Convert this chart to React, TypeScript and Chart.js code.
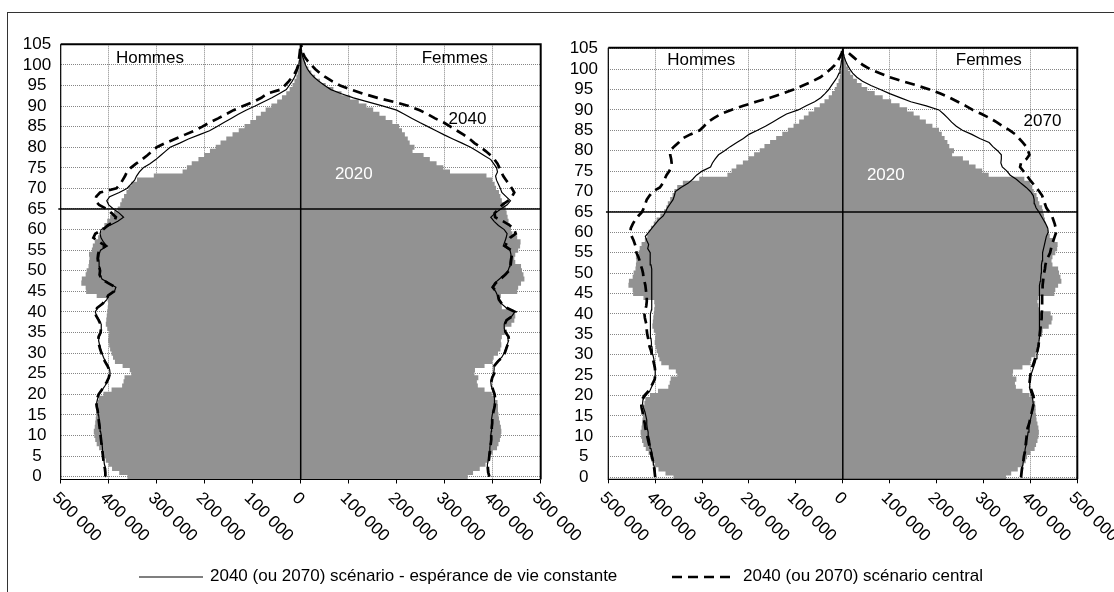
import React, { useEffect, useRef } from 'react';
import { Chart, registerables } from 'chart.js';

Chart.register(...registerables);

const FONT = "'Liberation Sans', Arial, Helvetica, sans-serif";

// ---------- categories & tick labels ----------
const ages: number[] = Array.from({ length: 106 }, (_, i) => i);
const ageTicks = [0, 5, 10, 15, 20, 25, 30, 35, 40, 45, 50, 55, 60, 65, 70, 75, 80, 85, 90, 95, 100, 105];
const xTickValues = [-500000, -400000, -300000, -200000, -100000, 0, 100000, 200000, 300000, 400000, 500000];
const xTickLabels = ['500 000', '400 000', '300 000', '200 000', '100 000', '0', '100 000', '200 000', '300 000', '400 000', '500 000'];
const legendLabels = ['2040 (ou 2070) scénario - espérance de vie constante', '2040 (ou 2070) scénario central'];

// ---------- population, thousands, ages 0..105 ----------
const men2020 = [
  360, 377, 392, 399, 405, 409, 413, 419, 424, 427,
  429, 430, 428, 427, 426, 425, 424, 425, 422, 420,
  410, 393, 371, 368, 366, 352, 355, 370, 386, 390,
  393, 396, 398, 400, 399, 398, 402, 405, 404, 403,
  402, 401, 400, 401, 424, 446, 447, 456, 455, 447,
  445, 441, 440, 439, 440, 434, 432, 428, 421, 416,
  413, 408, 402, 396, 388, 380, 375, 372, 367, 362,
  358, 352, 340, 305, 245, 236, 226, 212, 200, 188,
  176, 166, 154, 141, 128, 116, 104, 92, 82, 72,
  60, 48, 38, 29, 22, 16, 12, 8, 5.5, 3.8,
  2.5, 1.6, 1.0, 0.6, 0.4, 0.3,
];
const women2020 = [
  347, 358, 372, 384, 389, 392, 399, 408, 411, 414,
  416, 417, 416, 414, 412, 411, 410, 410, 409, 404,
  397, 382, 368, 366, 369, 361, 362, 382, 398, 401,
  410, 415, 417, 416, 418, 424, 425, 438, 444, 446,
  442, 418, 416, 414, 416, 450, 452, 458, 465, 463,
  460, 458, 446, 444, 446, 452, 456, 457, 450, 440,
  437, 435, 432, 430, 428, 426, 424, 418, 415, 412,
  406, 403, 398, 386, 310, 296, 282, 268, 255, 232,
  236, 226, 222, 216, 210, 204, 190, 176, 163, 150,
  136, 120, 102, 84, 67, 51, 39, 29, 21, 15,
  10, 6.5, 4, 2.5, 1.5, 1,
];
const men2040Const = [
  406, 406, 407, 409, 410, 411, 412, 413, 414, 415,
  416, 417, 418, 419, 420, 421, 422, 424, 425, 423,
  420, 414, 408, 403, 399, 397, 398, 402, 407, 411,
  414, 417, 419, 421, 420, 416, 415, 416, 420, 425,
  428, 423, 412, 404, 400, 388, 385, 400, 414, 418,
  418, 419, 420, 421, 420, 417, 404, 411, 416, 418,
  416, 398, 381, 369, 378, 390, 400, 404, 398, 378,
  362, 354, 346, 342, 336, 328, 314, 302, 292, 282,
  272, 252, 234, 212, 190, 175, 160, 145, 130, 114,
  95, 78, 60, 45, 30, 24, 18, 13, 9, 6,
  4, 3, 2, 1.5, 1, 0.5,
];
const men2040Central = [
  407, 407, 408, 410, 411, 412, 413, 414, 415, 416,
  417, 418, 419, 420, 421, 422, 423, 425, 426, 424,
  421, 415, 409, 404, 400, 398, 399, 403, 408, 412,
  415, 418, 420, 422, 421, 417, 416, 417, 421, 426,
  429, 424, 413, 405, 401, 389, 386, 401, 415, 419,
  418, 420, 422, 423, 422, 420, 406, 420, 432, 428,
  412, 402, 388, 385, 394, 404, 420, 428, 426, 418,
  384, 376, 371, 366, 362, 354, 343, 331, 320, 310,
  300, 282, 262, 242, 222, 205, 190, 172, 156, 140,
  120, 99, 82, 70, 42, 33, 25, 18, 12, 8,
  5, 4, 3, 2, 1, 0.5,
];
const women2040Const = [
  392, 390, 389, 389, 391, 392, 393, 394, 395, 396,
  396, 397, 397, 398, 398, 399, 401, 403, 404, 404,
  403, 400, 397, 396, 398, 402, 403, 403, 410, 419,
  424, 427, 430, 433, 432, 426, 424, 424, 428, 440,
  446, 428, 418, 412, 410, 406, 399, 404, 414, 424,
  432, 435, 436, 437, 438, 436, 422, 425, 428, 430,
  424, 412, 403, 396, 405, 417, 430, 437, 428, 419,
  416, 412, 408, 406, 410, 408, 402, 396, 382, 368,
  354, 336, 317, 299, 282, 265, 248, 232, 216, 200,
  172, 140, 110, 85, 63, 50, 38, 28, 20, 14,
  10, 7, 4, 2, 1, 0.5,
];
const women2040Central = [
  393, 391, 390, 390, 392, 393, 394, 395, 396, 397,
  397, 398, 398, 399, 399, 400, 402, 404, 405, 405,
  404, 401, 398, 397, 399, 403, 404, 404, 411, 420,
  425, 428, 431, 434, 433, 427, 425, 425, 429, 441,
  447, 429, 419, 413, 411, 407, 400, 406, 416, 426,
  434, 437, 438, 439, 440, 438, 426, 430, 436, 448,
  445, 436, 422, 405, 404, 412, 420, 432, 440, 445,
  440, 434, 428, 422, 418, 414, 410, 404, 396, 386,
  375, 362, 352, 340, 326, 312, 298, 280, 265, 248,
  225, 195, 160, 130, 105, 82, 66, 52, 40, 30,
  22, 14, 8, 4, 2, 1,
];
const men2070Const = [
  400, 400, 401, 403, 404, 406, 407, 409, 411, 412,
  414, 415, 417, 418, 418, 420, 422, 425, 427, 426,
  420, 412, 408, 404, 401, 400, 400, 401, 402, 403,
  405, 406, 407, 408, 409, 410, 411, 411, 410, 410,
  409, 408, 408, 407, 407, 407, 407, 407, 407, 408,
  408, 408, 409, 410, 411, 411, 416, 414, 418, 421,
  414, 407, 400, 393, 383, 378, 374, 368, 362, 359,
  357, 345, 330, 320, 312, 300, 282, 278, 272, 265,
  252, 240, 226, 212, 200, 182, 165, 150, 135, 120,
  95, 78, 60, 47, 38, 30, 24, 18, 12, 8,
  6, 4, 3, 2, 1, 0.5,
];
const men2070Central = [
  400, 401, 402, 403, 405, 407, 409, 411, 413, 415,
  417, 419, 421, 422, 424, 426, 427, 429, 430, 428,
  423, 415, 410, 405, 401, 400, 400, 401, 403, 405,
  407, 409, 412, 414, 415, 417, 418, 418, 420, 422,
  423, 421, 419, 418, 418, 419, 420, 421, 423, 425,
  426, 428, 431, 433, 436, 440, 441, 443, 446, 450,
  453, 452, 448, 443, 436, 428, 424, 421, 418, 412,
  405, 390, 384, 380, 376, 370, 366, 365, 366, 368,
  368, 360, 350, 342, 325, 305, 296, 288, 275, 260,
  238, 212, 185, 155, 128, 105, 85, 65, 48, 36,
  26, 17, 11, 6, 2, 0.5,
];
const women2070Const = [
  380, 380, 382, 384, 385, 386, 388, 389, 391, 392,
  394, 395, 397, 398, 400, 402, 404, 406, 406, 405,
  403, 400, 398, 398, 399, 401, 404, 407, 410, 412,
  414, 416, 417, 418, 419, 420, 420, 420, 419, 419,
  419, 419, 419, 419, 419, 419, 419, 420, 421, 422,
  423, 423, 424, 425, 426, 426, 428, 430, 432, 434,
  438, 437, 433, 428, 423, 418, 412, 409, 408, 406,
  400, 391, 380, 370, 357, 350, 340, 337, 338, 338,
  330, 320, 312, 292, 275, 255, 242, 232, 224, 215,
  205, 178, 145, 122, 100, 80, 60, 42, 30, 21,
  15, 10, 6, 3, 1, 0.5,
];
const women2070Central = [
  380, 381, 382, 384, 385, 386, 388, 389, 390, 391,
  392, 393, 394, 397, 399, 401, 403, 405, 407, 408,
  406, 403, 400, 398, 399, 400, 401, 404, 407, 410,
  412, 415, 417, 418, 419, 420, 421, 422, 423, 424,
  424, 425, 425, 425, 425, 425, 426, 426, 427, 428,
  429, 431, 432, 434, 438, 442, 444, 446, 449, 452,
  455, 454, 452, 449, 446, 440, 434, 431, 428, 425,
  419, 412, 405, 398, 392, 385, 378, 380, 392, 398,
  395, 391, 384, 376, 368, 356, 341, 328, 313, 296,
  277, 262, 245, 228, 208, 185, 158, 128, 100, 79,
  58, 43, 32, 22, 12, 6,
];

// ---------- panel settings ----------
type Note = { text: string; x: number; y: number; color: string };
type Panel = {
  menConst: number[]; womenConst: number[]; menCentral: number[]; womenCentral: number[];
  notes: Note[];
  canvasLeft: number; canvasWidth: number;
  plotLeft: number; plotRight: number; plotTop: number; plotBottom: number;
  yMin: number; yMax: number; yPad: number;
};

const H = 592;

const leftPanel: Panel = {
  menConst: men2040Const, womenConst: women2040Const, menCentral: men2040Central, womenCentral: women2040Central,
  notes: [
    { text: 'Hommes', x: -314000, y: 102.0, color: '#000' },
    { text: 'Femmes', x: 321000, y: 101.9, color: '#000' },
    { text: '2040', x: 347500, y: 87.1, color: '#000' },
    { text: '2020', x: 110600, y: 73.7, color: '#fff' },
  ],
  canvasLeft: 0, canvasWidth: 600,
  plotLeft: 60.7, plotRight: 540.7, plotTop: 44.3, plotBottom: 479.5,
  yMin: -0.7, yMax: 105, yPad: 9.5,
};

const rightPanel: Panel = {
  menConst: men2070Const, womenConst: women2070Const, menCentral: men2070Central, womenCentral: women2070Central,
  notes: [
    { text: 'Hommes', x: -301700, y: 102.6, color: '#000' },
    { text: 'Femmes', x: 311300, y: 102.4, color: '#000' },
    { text: '2070', x: 425800, y: 87.5, color: '#000' },
    { text: '2020', x: 91700, y: 74.35, color: '#fff' },
  ],
  canvasLeft: 555, canvasWidth: 559,
  plotLeft: 608.3 - 555, plotRight: 1077.3 - 555, plotTop: 47.7, plotBottom: 479.3,
  yMin: -0.55, yMax: 105.25, yPad: 10.3,
};

const GRAY = '#929292';
const GRID = '#858585';

function buildConfig(p: Panel): any {
  const menPts = (arr: number[]) => arr.map((v, i) => ({ x: -v * 1000, y: ages[i] }));
  const womenPts = (arr: number[]) => arr.map((v, i) => ({ x: v * 1000, y: ages[i] }));
  const dashed = { type: 'line', borderColor: '#000', borderWidth: 2.7, borderDash: [10, 6], pointRadius: 0, tension: 0, fill: false, order: 1 };
  const solid = { type: 'line', borderColor: '#000', borderWidth: 1.2, pointRadius: 0, tension: 0, fill: false, order: 1 };
  const ref = { type: 'line', borderColor: '#000', borderWidth: 1.5, pointRadius: 0, fill: false, order: 2, clip: false };
  const bar = { type: 'bar', backgroundColor: GRAY, borderWidth: 0, grouped: false, barPercentage: 1, categoryPercentage: 1, inflateAmount: 0.5, order: 10 };

  const overlay = {
    id: 'overlay',
    afterDraw(chart: any) {
      const { ctx, chartArea: a, scales } = chart;
      const xs = scales.x, ys = scales.y;
      ctx.save();
      // plot frame
      ctx.strokeStyle = '#000';
      ctx.lineWidth = 1.2;
      ctx.beginPath();
      ctx.moveTo(a.left, a.top);
      ctx.lineTo(a.left, a.bottom);
      ctx.lineTo(a.right, a.bottom);
      ctx.stroke();
      ctx.lineWidth = 2;
      ctx.beginPath();
      ctx.moveTo(a.left, a.top);
      ctx.lineTo(a.right, a.top);
      ctx.lineTo(a.right, a.bottom);
      ctx.stroke();
      // notes
      ctx.font = `17px ${FONT}`;
      ctx.textAlign = 'center';
      ctx.textBaseline = 'alphabetic';
      p.notes.forEach((n) => {
        ctx.fillStyle = n.color;
        ctx.fillText(n.text, xs.getPixelForValue(n.x), ys.getPixelForValue(n.y) + 6);
      });
      // rotated x tick labels
      ctx.fillStyle = '#000';
      ctx.textAlign = 'left';
      ctx.textBaseline = 'top';
      xs.ticks.forEach((t: any, i: number) => {
        const px = xs.getPixelForValue(t.value);
        ctx.save();
        ctx.translate(px, a.bottom + 10);
        ctx.rotate(Math.PI / 4);
        ctx.fillText(xTickLabels[i], 0, 0);
        ctx.restore();
      });
      ctx.restore();
    },
  };

  return {
    type: 'bar',
    data: {
      datasets: [
        { ...dashed, label: 'men central', data: menPts(p.menCentral) },
        { ...dashed, label: 'women central', data: womenPts(p.womenCentral) },
        { ...solid, label: 'men constant', data: menPts(p.menConst) },
        { ...solid, label: 'women constant', data: womenPts(p.womenConst) },
        { ...ref, label: 'axis0', data: [{ x: 0, y: p.yMin }, { x: 0, y: p.yMax }] },
        { ...ref, label: 'age65', data: [{ x: -505000, y: 65 }, { x: 500000, y: 65 }] },
        { ...bar, label: 'Hommes 2020', data: menPts(men2020) },
        { ...bar, label: 'Femmes 2020', data: womenPts(women2020) },
      ],
    },
    options: {
      indexAxis: 'y',
      responsive: false,
      maintainAspectRatio: false,
      animation: false,
      devicePixelRatio: 1,
      layout: {
        padding: { left: 0, top: p.plotTop, right: p.canvasWidth - p.plotRight, bottom: 0 },
      },
      plugins: { legend: { display: false }, tooltip: { enabled: false } },
      scales: {
        x: {
          type: 'linear',
          position: 'bottom',
          offset: false,
          min: -500000,
          max: 500000,
          afterBuildTicks: (s: any) => { s.ticks = xTickValues.map((value) => ({ value })); },
          afterFit: (s: any) => { s.height = H - p.plotBottom; },
          ticks: { display: false },
          grid: { offset: false, color: GRID, lineWidth: 1, drawTicks: true, tickLength: 4, tickColor: '#000', tickWidth: 1, tickBorderDash: [] },
          border: { display: false, dash: [1, 1] },
        },
        y: {
          type: 'linear',
          position: 'left',
          offset: false,
          min: p.yMin,
          max: p.yMax,
          afterBuildTicks: (s: any) => { s.ticks = ageTicks.map((value) => ({ value })); },
          afterFit: (s: any) => { s.width = p.plotLeft; },
          ticks: {
            color: '#000', font: { family: FONT, size: 17 }, padding: p.yPad, crossAlign: 'center', autoSkip: false,
            callback: (v: any) => String(v),
          },
          grid: { offset: false, color: GRID, lineWidth: 1, drawTicks: false },
          border: { display: false, dash: [1, 1] },
        },
      },
    },
    plugins: [overlay],
  };
}

function PanelChart({ panel }: { panel: Panel }) {
  const ref = useRef<HTMLCanvasElement>(null);
  useEffect(() => {
    const chart = new Chart(ref.current as HTMLCanvasElement, buildConfig(panel));
    return () => chart.destroy();
  }, [panel]);
  return (
    <canvas
      ref={ref}
      width={panel.canvasWidth}
      height={H}
      style={{ position: 'absolute', left: panel.canvasLeft, top: 0, width: panel.canvasWidth, height: H }}
    />
  );
}

export default function App() {
  return (
    <div style={{ position: 'fixed', left: 0, top: 0, width: 1114, height: H, background: '#fff', overflow: 'hidden' }}>
      <div style={{ position: 'absolute', left: 7, top: 12, width: 1130, height: 620, border: '1px solid #333', boxSizing: 'border-box' }} />
      <PanelChart panel={leftPanel} />
      <PanelChart panel={rightPanel} />
      <svg width={1114} height={H} style={{ position: 'absolute', left: 0, top: 0, pointerEvents: 'none' }}>
        <line x1={139} y1={577} x2={203} y2={577} stroke="#000" strokeWidth={1.2} />
        <text x={210} y={581} fontFamily={FONT} fontSize={17} fill="#000">{legendLabels[0]}</text>
        <line x1={672} y1={577} x2={734} y2={577} stroke="#000" strokeWidth={2.7} strokeDasharray="10 6" />
        <text x={743} y={581} fontFamily={FONT} fontSize={17} fill="#000">{legendLabels[1]}</text>
      </svg>
    </div>
  );
}
